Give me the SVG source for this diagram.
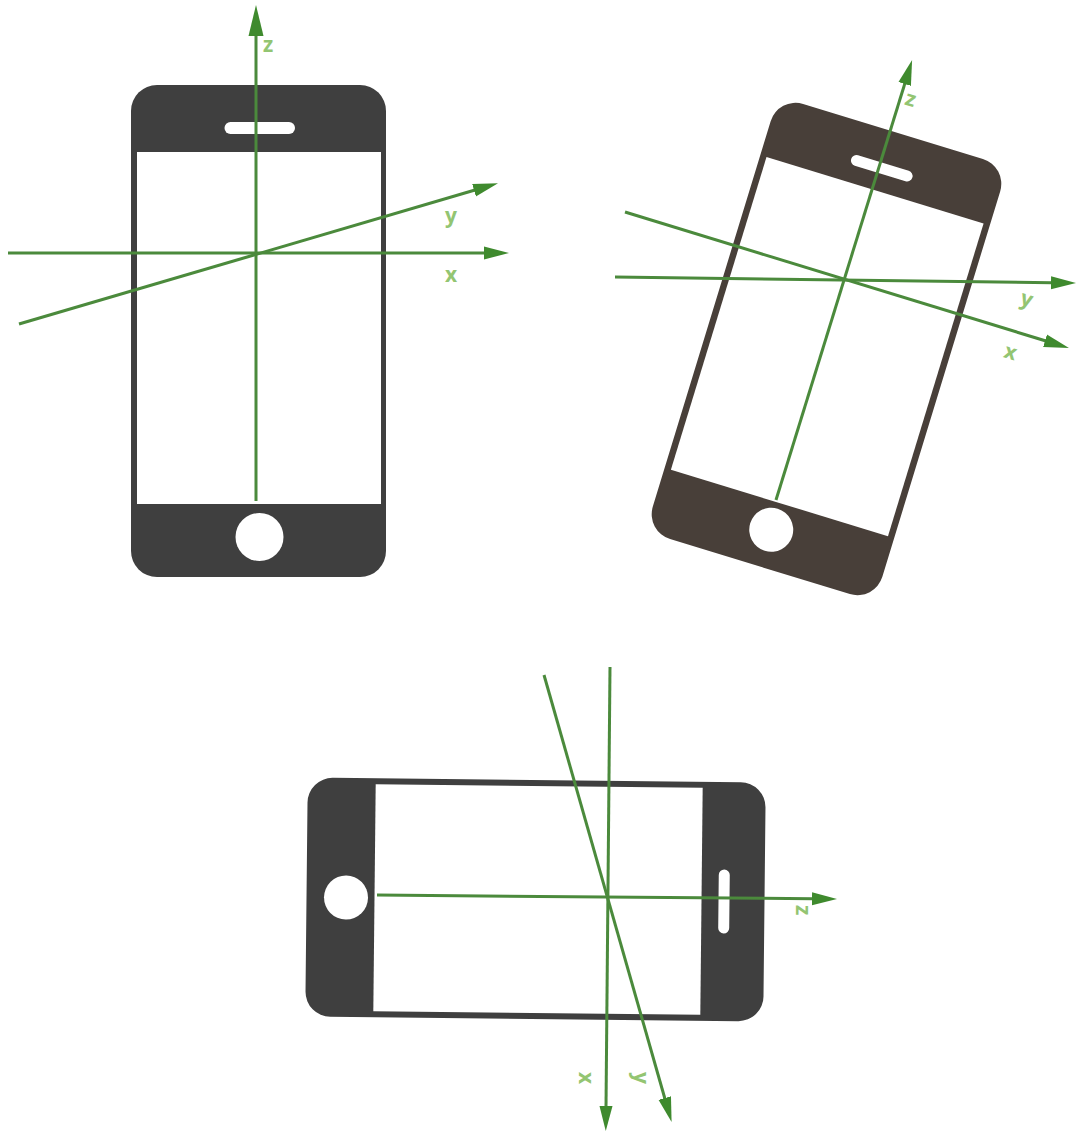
<svg xmlns="http://www.w3.org/2000/svg" width="1076" height="1132" viewBox="0 0 1076 1132">
<style>
.hole{fill:#fff}
.axis{stroke:#4b8a3c;stroke-width:3;fill:none;marker-end:url(#head)}
.axis.long{marker-end:url(#headLong)}
.lab{fill:#93c572;font-family:"Open Sans","Liberation Sans",sans-serif;font-weight:700;font-size:21px;text-anchor:middle;dominant-baseline:central}
</style>
<defs>
<marker id="head" markerUnits="userSpaceOnUse" markerWidth="26" markerHeight="16" refX="1" refY="8" orient="auto"><polygon points="0,1.500 25,8 0,14.500" fill="#3f8a2e"/></marker>
<marker id="headLong" markerUnits="userSpaceOnUse" markerWidth="32" markerHeight="18" refX="1" refY="9" orient="auto"><polygon points="0,1.500 31,9 0,16.500" fill="#3f8a2e"/></marker>
</defs>
<rect width="1076" height="1132" fill="#fff"/>
<g id="phone-upright">
<rect x="131" y="85" width="255" height="492" rx="26" fill="#3f3f3f"/>
<rect class="hole" x="137" y="152" width="244" height="352"/>
<rect class="hole" x="224.500" y="122" width="70.500" height="12" rx="6"/>
<circle class="hole" cx="259.500" cy="537" r="24"/>
</g>
<g id="phone-tilted" transform="translate(826.500 349) rotate(17)">
<rect x="-120" y="-227.500" width="240" height="455" rx="26" fill="#483f39"/>
<rect class="hole" x="-113.500" y="-166" width="227" height="327"/>
<rect class="hole" x="-32" y="-194.500" width="64" height="11" rx="5.500"/>
<circle class="hole" cx="0" cy="189" r="22"/>
</g>
<g id="phone-landscape" transform="translate(535.500 899.500) rotate(0.6)">
<rect x="-229" y="-119.500" width="458" height="239" rx="25" fill="#3f3f3f"/>
<rect class="hole" x="-161" y="-113.500" width="327" height="227"/>
<rect class="hole" x="183" y="-32" width="11" height="64" rx="5.500"/>
<circle class="hole" cx="-189.500" cy="0" r="22"/>
</g>
<g id="connectors">
<line class="axis long" x1="256" y1="501" x2="256" y2="35"/>
<line class="axis" x1="8" y1="253" x2="485" y2="253"/>
<line class="axis" x1="19" y1="324" x2="475" y2="190"/>
<line class="axis" x1="776" y1="500" x2="905" y2="83"/>
<line class="axis" x1="625" y1="212" x2="1046" y2="341"/>
<line class="axis" x1="615" y1="277" x2="1052" y2="282.700"/>
<line class="axis" x1="377" y1="895" x2="813" y2="898.800"/>
<line class="axis" x1="610" y1="667" x2="606" y2="1107"/>
<line class="axis" x1="544" y1="675" x2="665" y2="1099"/>
</g>
<g id="labels">
<text class="lab" x="268" y="44">z</text>
<text class="lab" x="451" y="215">y</text>
<text class="lab" x="451" y="274">x</text>
<text class="lab" transform="translate(911 98) rotate(17)">z</text>
<text class="lab" transform="translate(1027 298) rotate(17)">y</text>
<text class="lab" transform="translate(1011 351) rotate(17)">x</text>
<text class="lab" transform="translate(804 910) rotate(90)">z</text>
<text class="lab" transform="translate(587 1078) rotate(90)">x</text>
<text class="lab" transform="translate(642 1078) rotate(90)">y</text>
</g>
</svg>
